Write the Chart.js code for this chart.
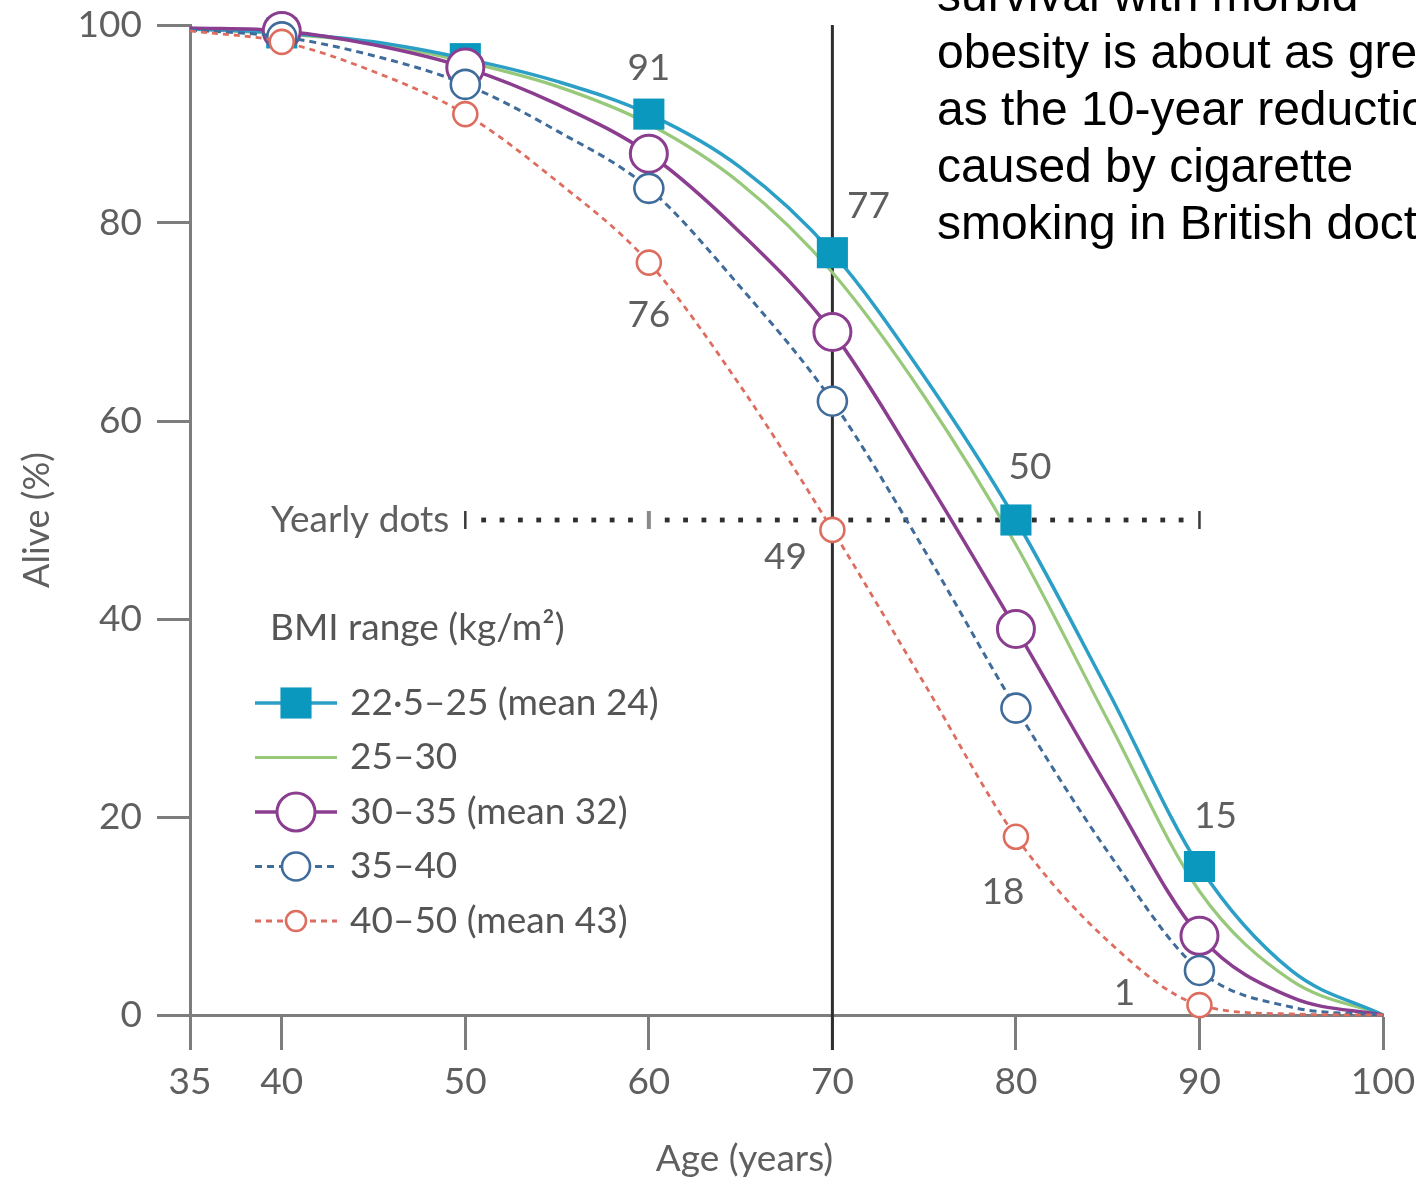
<!DOCTYPE html>
<html>
<head>
<meta charset="utf-8">
<title>Survival by BMI range</title>
<script src="https://cdn.jsdelivr.net/npm/chart.js@4/dist/chart.umd.min.js"></script>
<style>
  html, body { margin: 0; padding: 0; background: #fff; overflow: hidden; width: 1416px; height: 1180px; }
  #wrap { position: relative; width: 1416px; height: 1180px; overflow: hidden; }
  #c { position: absolute; left: 0; top: 0; width: 1416px; height: 1180px; filter: blur(0.5px); }
  #note {
    position: absolute; left: 937px; top: -34px;
    font-family: 'Liberation Sans', Arial, sans-serif; font-size: 48px; line-height: 57px;
    color: #000; white-space: nowrap;
  }
</style>
</head>
<body>
<div id="wrap">
  <canvas id="c" width="1416" height="1180"></canvas>
  <div id="note">survival with morbid<br>obesity is about as great<br>as the 10-year reduction<br>caused by cigarette<br>smoking in British doctors</div>
</div>
<script>
// Age (years) at which survival is read
const ages = [35, 40, 45, 50, 55, 60, 65, 70, 75, 80, 85, 90, 95, 100];

// Percentage alive at each age, one list per BMI range
const bmi22_25 = [99.6, 99.2, 98.3, 96.6, 94.3, 91, 85.6, 77, 64.5, 50, 32.8, 15, 4.5, 0];
const bmi25_30 = [99.6, 99.1, 98.2, 96.3, 93.8, 90, 84, 75, 62.5, 47.5, 29.8, 12.5, 3.5, 0];
const bmi30_35 = [99.7, 99.4, 98, 95.7, 92, 87, 79, 69, 54.5, 39, 23, 8, 1.8, 0];
const bmi35_40 = [99.5, 98.8, 96.9, 94, 89.3, 83.5, 73.5, 62, 47, 31, 16.5, 4.5, 0.8, 0];
const bmi40_50 = [99.4, 98.3, 95.3, 91, 84.2, 76, 63.5, 49, 33.5, 18, 7.5, 1, 0.1, 0];

const seriesLabels = ['22\u00b75\u201325 (mean 24)', '25\u201330', '30\u201335 (mean 32)', '35\u201340', '40\u201350 (mean 43)'];
const legendTitle = 'BMI range (kg/m\u00b2)';

// Ages carrying a marker, and ages whose value is printed
const markerAges = [40, 50, 60, 70, 80, 90];
const labelledAges = [60, 70, 80, 90];

// Axis ticks
const xTicks = [35, 40, 50, 60, 70, 80, 90, 100];
const yTicks = [0, 20, 40, 60, 80, 100];

// Reference guides
const referenceAge = 70;
const yearlyDotsLevel = 50;
const yearlyDotsFrom = 50;
const yearlyDotsTo = 90;

const FONT = "Lato, 'Noto Sans', sans-serif";
const TEXT_GREY = '#5f5f5f';
const AXIS_GREY = '#7d7d7d';

const COL = {
  cyan: '#2b9fc6', cyanFill: '#0b98bf',
  green: '#98c97a',
  purple: '#8b3d8f',
  blue: '#3f6c9a',
  red: '#dd6d5f'
};

const pts = arr => ages.map((a, i) => ({ x: a, y: arr[i] }));
const markerRadius = r => ctx => (markerAges.includes(ages[ctx.dataIndex]) ? r : 0);

const datasets = [
  { label: seriesLabels[0], data: pts(bmi22_25), borderColor: COL.cyan, borderWidth: 3.5,
    pointStyle: 'rect', pointRadius: markerRadius(22), pointBackgroundColor: COL.cyanFill,
    pointBorderColor: COL.cyanFill, pointBorderWidth: 0, order: 3,
    legendMarker: { style: 'rect', r: 22 } },
  { label: seriesLabels[1], data: pts(bmi25_30), borderColor: COL.green, borderWidth: 3.2,
    pointRadius: 0, order: 4, legendMarker: null },
  { label: seriesLabels[2], data: pts(bmi30_35), borderColor: COL.purple, borderWidth: 3.5,
    pointStyle: 'circle', pointRadius: markerRadius(18.5), pointBackgroundColor: '#fff',
    pointBorderColor: COL.purple, pointBorderWidth: 3, order: 2,
    legendMarker: { style: 'circle', r: 19 } },
  { label: seriesLabels[3], data: pts(bmi35_40), borderColor: COL.blue, borderWidth: 3,
    borderDash: [7, 5], pointStyle: 'circle', pointRadius: markerRadius(14.5),
    pointBackgroundColor: '#fff', pointBorderColor: COL.blue, pointBorderWidth: 2.6, order: 1,
    legendMarker: { style: 'circle', r: 14 } },
  { label: seriesLabels[4], data: pts(bmi40_50), borderColor: COL.red, borderWidth: 2.8,
    borderDash: [6, 5], pointStyle: 'circle', pointRadius: markerRadius(12),
    pointBackgroundColor: '#fff', pointBorderColor: COL.red, pointBorderWidth: 2.6, order: 0,
    legendMarker: { style: 'circle', r: 10 } }
].map(d => Object.assign({ cubicInterpolationMode: 'monotone', clip: false, fill: false }, d));

// Printed values: offsets of each number from its marker
const valueLabelOffsets = {
  0: { 60: [0, -46], 70: [36, -47], 80: [14, -53], 90: [16, -50] },
  4: { 60: [0, 52], 70: [-47, 27], 80: [-13, 55], 90: [-75, -12] }
};

// Vertical line at the reference age and the dotted yearly row
const guidesPlugin = {
  id: 'guides',
  beforeDatasetsDraw(chart) {
    const { ctx, scales: { x, y } } = chart;
    ctx.save();
    const vx = x.getPixelForValue(referenceAge);
    ctx.strokeStyle = '#2e2e2e';
    ctx.lineWidth = 3;
    ctx.beginPath();
    ctx.moveTo(vx, y.getPixelForValue(100));
    ctx.lineTo(vx, y.getPixelForValue(0) + 35);
    ctx.stroke();

    const dy = y.getPixelForValue(yearlyDotsLevel);
    for (let yr = yearlyDotsFrom; yr <= yearlyDotsTo; yr++) {
      const px = x.getPixelForValue(yr);
      if (yr % 10 === 0) {
        ctx.fillStyle = yr === 60 ? '#8a8a8a' : '#3a3a3a';
        const w = yr === 60 ? 4 : 2.5;
        ctx.fillRect(px - w / 2, dy - 9, w, 18);
      } else {
        ctx.fillStyle = '#2f2f2f';
        ctx.fillRect(px - 2.4, dy - 2.4, 4.8, 4.8);
      }
    }
    ctx.font = `37px ${FONT}`;
    ctx.fillStyle = TEXT_GREY;
    ctx.textAlign = 'right';
    ctx.textBaseline = 'middle';
    ctx.fillText('Yearly dots', x.getPixelForValue(yearlyDotsFrom) - 16, dy);
    ctx.restore();
  }
};

// Printed values, legend block and x-axis title
const annotationsPlugin = {
  id: 'annotations',
  afterDraw(chart) {
    const { ctx, chartArea, scales: { x, y } } = chart;
    ctx.save();
    ctx.font = `37px ${FONT}`;
    ctx.fillStyle = TEXT_GREY;
    ctx.textAlign = 'center';
    ctx.textBaseline = 'middle';

    Object.keys(valueLabelOffsets).forEach(k => {
      const ds = chart.data.datasets[k];
      const offs = valueLabelOffsets[k];
      labelledAges.forEach(age => {
        const i = ages.indexOf(age);
        const v = ds.data[i].y;
        const [ox, oy] = offs[age];
        ctx.fillText(String(v), x.getPixelForValue(age) + ox, y.getPixelForValue(v) + oy);
      });
    });

    // legend
    const lx = chartArea.left + 65;
    ctx.textAlign = 'left';
    ctx.fillStyle = '#555';
    ctx.fillText(legendTitle, chartArea.left + 80, chartArea.top + 603);
    const rowTop = chartArea.top + 678;
    const rowGap = 54.5;
    chart.data.datasets.forEach((ds, i) => {
      const cy = rowTop + i * rowGap;
      const x0 = lx, x1 = lx + 82, cx = lx + 41;
      ctx.save();
      ctx.strokeStyle = ds.borderColor;
      ctx.lineWidth = ds.borderWidth;
      ctx.setLineDash(ds.borderDash || []);
      ctx.beginPath();
      ctx.moveTo(x0, cy);
      ctx.lineTo(x1, cy);
      ctx.stroke();
      ctx.setLineDash([]);
      const m = ds.legendMarker;
      if (m) {
        if (m.style === 'rect') {
          const s = m.r * Math.SQRT1_2;
          ctx.fillStyle = ds.pointBackgroundColor;
          ctx.fillRect(cx - s, cy - s, 2 * s, 2 * s);
        } else {
          ctx.fillStyle = '#fff';
          ctx.strokeStyle = ds.pointBorderColor;
          ctx.lineWidth = ds.pointBorderWidth;
          ctx.beginPath();
          ctx.arc(cx, cy, m.r, 0, Math.PI * 2);
          ctx.fill();
          ctx.stroke();
        }
      }
      ctx.restore();
      ctx.fillStyle = '#555';
      ctx.fillText(ds.label, lx + 95, cy);
    });

    // x-axis title
    ctx.textAlign = 'center';
    ctx.fillStyle = TEXT_GREY;
    ctx.fillText('Age (years)', (chartArea.left + chartArea.right) / 2 - 42, 1159);
    ctx.restore();
  }
};

function build() {
  Chart.defaults.font.family = FONT;
  Chart.defaults.font.size = 37;
  Chart.defaults.color = TEXT_GREY;

  new Chart(document.getElementById('c'), {
    type: 'line',
    data: { datasets },
    options: {
      responsive: false,
      animation: false,
      events: [],
      layout: { padding: { top: 25, right: 33, left: 0, bottom: 0 } },
      plugins: { legend: { display: false }, tooltip: { enabled: false } },
      scales: {
        x: {
          type: 'linear', min: 35, max: 100,
          afterBuildTicks: s => { s.ticks = xTicks.map(v => ({ value: v })); },
          afterFit: s => { s.height = 165; s.paddingLeft = 0; s.paddingRight = 0; },
          grid: { drawOnChartArea: false, drawTicks: true, tickLength: 35, tickWidth: 3, tickColor: AXIS_GREY },
          border: { display: true, color: AXIS_GREY, width: 3 },
          ticks: { padding: 10, color: TEXT_GREY, font: { size: 37 }, maxRotation: 0, autoSkip: false }
        },
        y: {
          type: 'linear', min: 0, max: 100,
          afterBuildTicks: s => { s.ticks = yTicks.map(v => ({ value: v })); },
          afterFit: s => { s.width = 190; s.paddingTop = 0; s.paddingBottom = 0; },
          grid: { drawOnChartArea: false, drawTicks: true, tickLength: 33, tickWidth: 3, tickColor: AXIS_GREY },
          border: { display: true, color: AXIS_GREY, width: 3 },
          ticks: { padding: 15, color: TEXT_GREY, font: { size: 37 }, autoSkip: false },
          title: { display: true, text: 'Alive (%)', color: TEXT_GREY, font: { size: 36 }, padding: { top: 16, bottom: 0 } }
        }
      }
    },
    plugins: [guidesPlugin, annotationsPlugin]
  });
}

if (document.fonts && document.fonts.load) {
  document.fonts.load(`37px ${FONT}`).then(build, build);
} else {
  build();
}
</script>
</body>
</html>
